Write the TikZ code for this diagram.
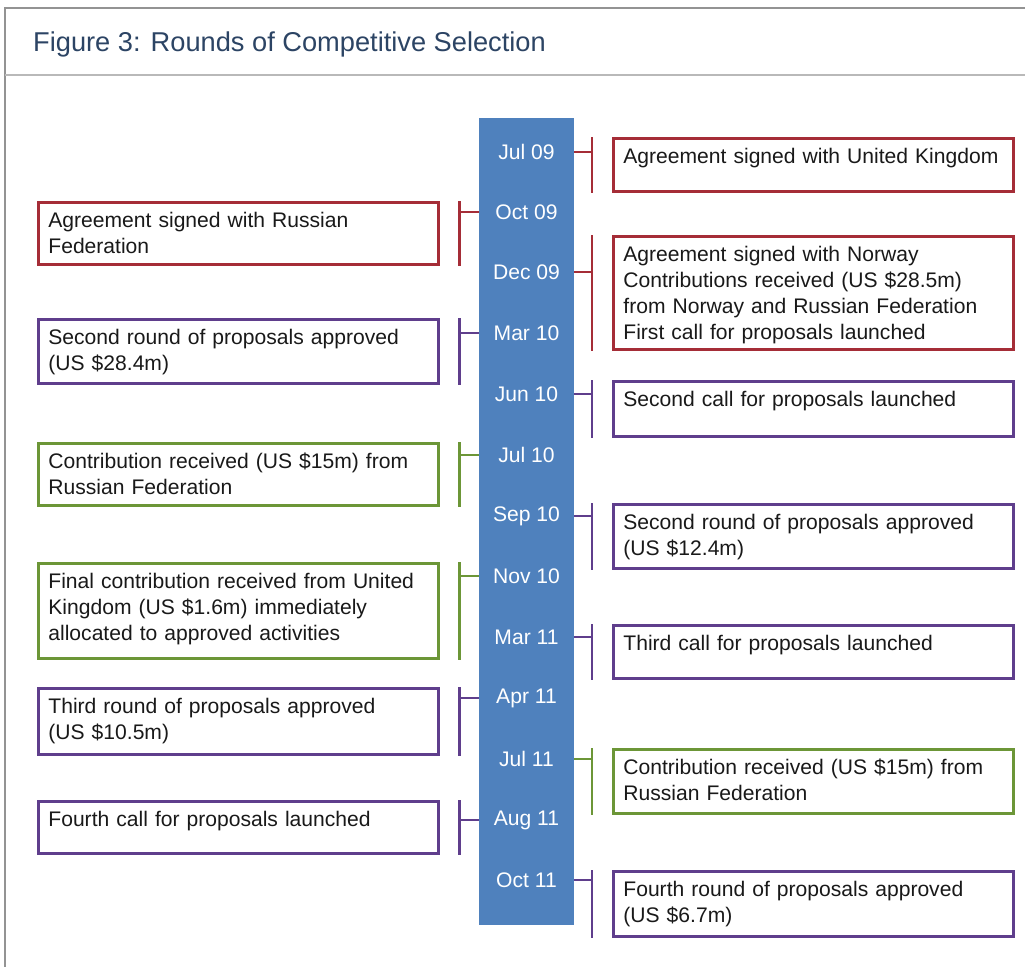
\documentclass[tikz,border=0pt]{standalone}
\usepackage{fontspec}
\setmainfont{Liberation Sans}
\usetikzlibrary{calc}

\definecolor{evred}{RGB}{165,45,55}
\definecolor{evpurple}{RGB}{95,62,140}
\definecolor{evgreen}{RGB}{108,150,55}
\definecolor{barblue}{RGB}{79,129,189}
\definecolor{titleblue}{RGB}{44,68,100}

\begin{document}
\begin{tikzpicture}[
    x=0.02cm, y=-0.02cm,
    event/.style={draw, line width=1.6pt, anchor=north west, text width=7.6cm, inner xsep=0.2cm, inner ysep=0pt,
      text height=0.5cm, align=left, text=black!90, font=\fontsize{12pt}{14.8pt}\selectfont},
    date/.style={minimum width=1.9cm, inner xsep=0pt, text=white, font=\fontsize{12pt}{13pt}\selectfont},
    tick/.style={line width=1.6pt}
  ]
  \useasboundingbox (0,0) rectangle (1025,967);

  % frame and title
  \draw[gray!85, line width=1pt] (1025,8) -- (5,8) -- (5,967);
  \draw[gray!55, line width=1pt] (5,75) -- (1025,75);
  \node[anchor=west, text=titleblue, font=\fontsize{15.5pt}{18pt}\selectfont] (title) at (27,44) {Figure 3: Rounds of Competitive Selection};

  % timeline bar with dates
  \fill[barblue] (479,118) rectangle (574,925);
  \node[date] (jul09) at (526.5,152) {Jul 09};
  \node[date] (oct09) at (526.5,212) {Oct 09};
  \node[date] (dec09) at (526.5,272) {Dec 09};
  \node[date] (mar10) at (526.5,333) {Mar 10};
  \node[date] (jun10) at (526.5,394) {Jun 10};
  \node[date] (jul10) at (526.5,455) {Jul 10};
  \node[date] (sep10) at (526.5,516) {Sep 10};
  \node[date] (nov10) at (526.5,576) {Nov 10};
  \node[date] (mar11) at (526.5,637) {Mar 11};
  \node[date] (apr11) at (526.5,698) {Apr 11};
  \node[date] (jul11) at (526.5,759) {Jul 11};
  \node[date] (aug11) at (526.5,820) {Aug 11};
  \node[date] (oct11) at (526.5,880) {Oct 11};

  % events on the right
  \node[event, draw=evred, text depth=0.56cm] (ukAgreement) at (612,137) {Agreement signed with United Kingdom};
  \node[event, draw=evred, text depth=1.76cm] (noAgreement) at (612,235) {Agreement signed with Norway\\Contributions received (US \$28.5m)\\from Norway and Russian Federation\\First call for proposals launched};
  \node[event, draw=evpurple, text depth=0.60cm] (callTwo) at (612,380) {Second call for proposals launched};
  \node[event, draw=evpurple, text depth=0.78cm] (roundTwoB) at (612,503) {Second round of proposals approved\\(US \$12.4m)};
  \node[event, draw=evpurple, text depth=0.56cm] (callThree) at (612,624) {Third call for proposals launched};
  \node[event, draw=evgreen, text depth=0.78cm] (ruContribB) at (612,748) {Contribution received (US \$15m) from\\Russian Federation};
  \node[event, draw=evpurple, text depth=0.80cm] (roundFour) at (612,870) {Fourth round of proposals approved\\(US \$6.7m)};

  % events on the left
  \node[event, draw=evred, text depth=0.74cm] (ruAgreement) at (37,201) {Agreement signed with Russian\\Federation};
  \node[event, draw=evpurple, text depth=0.78cm] (roundTwoA) at (37,318) {Second round of proposals approved\\(US \$28.4m)};
  \node[event, draw=evgreen, text depth=0.74cm] (ruContribA) at (37,442) {Contribution received (US \$15m) from\\Russian Federation};
  \node[event, draw=evgreen, text depth=1.40cm] (ukFinal) at (37,562) {Final contribution received from United\\Kingdom (US \$1.6m) immediately\\allocated to approved activities};
  \node[event, draw=evpurple, text depth=0.82cm] (roundThree) at (37,687) {Third round of proposals approved\\(US \$10.5m)};
  \node[event, draw=evpurple, text depth=0.54cm] (callFour) at (37,800) {Fourth call for proposals launched};

  % brackets joining dates and events
  \foreach \d/\b/\c in {jul09/ukAgreement/evred, dec09/noAgreement/evred, jun10/callTwo/evpurple,
      sep10/roundTwoB/evpurple, mar11/callThree/evpurple, jul11/ruContribB/evgreen, oct11/roundFour/evpurple}
    \draw[tick, \c] (\d.east) -- ($(\d.east -| \b.west)+(-20,0)$)
      ($(\b.north west)+(-20,0)$) -- ($(\b.south west)+(-20,0)$);
  \foreach \d/\b/\c in {oct09/ruAgreement/evred, mar10/roundTwoA/evpurple, jul10/ruContribA/evgreen,
      nov10/ukFinal/evgreen, apr11/roundThree/evpurple, aug11/callFour/evpurple}
    \draw[tick, \c] (\d.west) -- ($(\d.west -| \b.east)+(20,0)$)
      ($(\b.north east)+(20,0)$) -- ($(\b.south east)+(20,0)$);
\end{tikzpicture}
\end{document}
